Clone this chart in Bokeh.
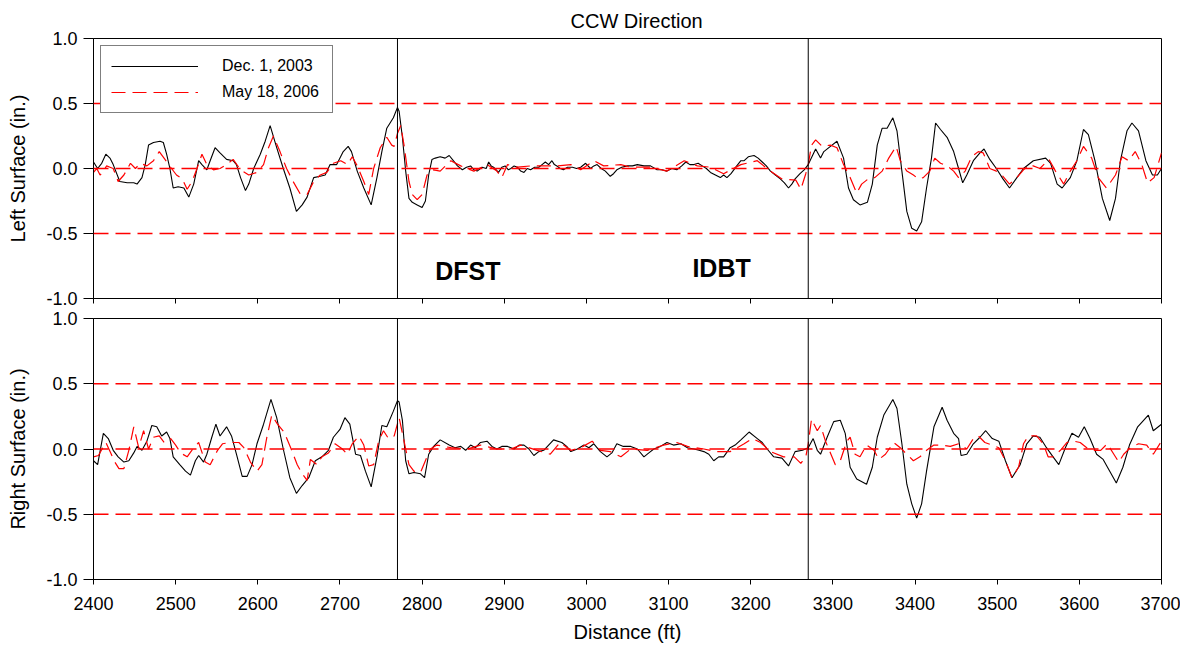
from bokeh.plotting import figure
from bokeh.layouts import column
from bokeh.models import Range1d, Span, Legend, LegendItem, FixedTicker, PrintfTickFormatter
from bokeh.core.properties import value
from bokeh.embed import file_html
from bokeh.resources import INLINE

FONT = "Liberation Sans"

# ---------------- data (distance ft, deviation in.) ----------------
left_dec_x = [2400, 2405, 2410, 2415, 2420, 2424, 2432, 2441, 2449, 2453, 2459, 2463, 2467, 2473, 2481, 2485,
              2489, 2493, 2497, 2503, 2510, 2516, 2522, 2528, 2532, 2538, 2542, 2548, 2554, 2562, 2570, 2574,
              2579, 2585, 2589, 2595, 2603, 2609, 2615, 2623, 2631, 2639, 2647, 2654, 2660, 2668, 2676, 2682,
              2688, 2696, 2704, 2710, 2714, 2721, 2729, 2738, 2745, 2751, 2757, 2765, 2770, 2772, 2776, 2780,
              2784, 2788, 2794, 2800, 2804, 2808, 2812, 2816, 2822, 2828, 2833, 2838, 2843, 2849, 2854, 2859,
              2863, 2867, 2873, 2878, 2881, 2884, 2887, 2893, 2897, 2901, 2905, 2908, 2912, 2916, 2920, 2924,
              2928, 2932, 2937, 2942, 2946, 2950, 2954, 2958, 2961, 2964, 2968, 2972, 2977, 2983, 2988, 2993,
              2999, 3005, 3009, 3013, 3018, 3023, 3029, 3033, 3037, 3043, 3050, 3056, 3062, 3070, 3078, 3086,
              3092, 3098, 3104, 3110, 3116, 3121, 3126, 3131, 3136, 3141, 3146, 3151, 3157, 3163, 3167, 3171,
              3176, 3183, 3188, 3192, 3197, 3204, 3209, 3214, 3219, 3224, 3230, 3236, 3241, 3246, 3250, 3254,
              3260, 3265, 3270, 3279, 3285, 3289, 3297, 3305, 3313, 3319, 3325, 3333, 3342, 3348, 3354, 3360,
              3366, 3373, 3378, 3384, 3390, 3396, 3402, 3408, 3414, 3420, 3425, 3431, 3439, 3447, 3453, 3458,
              3463, 3471, 3479, 3484, 3491, 3499, 3507, 3515, 3524, 3532, 3544, 3559, 3565, 3573, 3579, 3589,
              3597, 3605, 3611, 3619, 3628, 3637, 3644, 3650, 3658, 3664, 3672, 3681, 3689, 3695, 3700]
left_dec_y = [0.05, 0.00, 0.04, 0.11, 0.08, 0.03, -0.10, -0.11, -0.11, -0.12, -0.07, 0.03, 0.18, 0.20, 0.21, 0.20,
              0.11, 0.00, -0.15, -0.14, -0.15, -0.22, -0.12, 0.06, 0.03, -0.01, 0.06, 0.16, 0.12, 0.07, 0.06, 0.03,
              -0.07, -0.17, -0.12, 0.00, 0.11, 0.21, 0.33, 0.16, 0.00, -0.15, -0.33, -0.28, -0.22, -0.07, -0.06, -0.05,
              0.03, 0.03, 0.13, 0.17, 0.13, -0.02, -0.15, -0.28, -0.07, 0.13, 0.31, 0.39, 0.47, 0.44, 0.24, -0.02,
              -0.23, -0.26, -0.28, -0.30, -0.25, -0.05, 0.07, 0.08, 0.09, 0.08, 0.10, 0.06, 0.02, -0.01, 0.01, 0.02,
              -0.01, -0.02, 0.01, 0.00, 0.05, 0.02, 0.01, -0.03, 0.01, 0.02, -0.01, 0.00, 0.02, 0.01, -0.02, -0.03,
              0.00, -0.01, 0.01, 0.01, 0.03, 0.05, 0.03, 0.06, 0.03, 0.02, 0.00, -0.01, 0.01, 0.01, 0.00, 0.01,
              0.04, 0.00, 0.02, 0.03, 0.00, -0.02, -0.06, -0.04, -0.01, 0.01, 0.02, 0.02, 0.03, 0.02, 0.02, -0.01,
              -0.01, -0.02, 0.00, -0.01, 0.02, 0.05, 0.03, 0.03, 0.04, 0.02, 0.00, -0.03, -0.05, -0.07, -0.05, -0.07,
              -0.04, 0.02, 0.06, 0.06, 0.09, 0.10, 0.08, 0.05, 0.02, -0.02, -0.05, -0.08, -0.11, -0.15, -0.12, -0.08,
              -0.04, -0.01, 0.03, 0.15, 0.08, 0.13, 0.17, 0.21, 0.08, -0.15, -0.24, -0.28, -0.26, -0.12, 0.18, 0.31,
              0.31, 0.39, 0.29, -0.02, -0.33, -0.46, -0.48, -0.41, -0.15, 0.08, 0.35, 0.30, 0.24, 0.13, 0.00, -0.11,
              -0.05, 0.06, 0.12, 0.15, 0.07, 0.00, -0.08, -0.15, -0.07, 0.00, 0.06, 0.08, 0.04, -0.12, -0.15, -0.07,
              0.06, 0.30, 0.26, 0.06, -0.23, -0.40, -0.23, 0.06, 0.29, 0.35, 0.29, 0.06, -0.05, -0.05, 0.00]

left_may_x = [2400, 2404, 2408, 2412, 2416, 2420, 2424, 2430, 2437, 2445, 2451, 2457, 2465, 2473, 2480, 2487,
              2495, 2501, 2508, 2514, 2520, 2526, 2532, 2538, 2546, 2554, 2562, 2570, 2579, 2589, 2599, 2607,
              2613, 2619, 2627, 2635, 2643, 2652, 2660, 2668, 2676, 2684, 2692, 2701, 2709, 2715, 2721, 2729,
              2735, 2741, 2749, 2757, 2763, 2766, 2770, 2774, 2778, 2784, 2788, 2794, 2800, 2806, 2814, 2822,
              2835, 2847, 2863, 2879, 2891, 2897, 2904, 2916, 2932, 2948, 2964, 2981, 2993, 3009, 3021, 3042,
              3054, 3078, 3098, 3119, 3135, 3151, 3167, 3188, 3208, 3224, 3238, 3255, 3261, 3267, 3270, 3274,
              3279, 3287, 3297, 3305, 3313, 3321, 3329, 3335, 3343, 3351, 3360, 3368, 3377, 3382, 3390, 3398,
              3404, 3410, 3418, 3424, 3431, 3439, 3447, 3453, 3461, 3469, 3477, 3483, 3491, 3499, 3507, 3515,
              3524, 3532, 3540, 3552, 3563, 3571, 3581, 3589, 3597, 3605, 3615, 3623, 3633, 3644, 3652, 3660,
              3668, 3676, 3683, 3691, 3700]
left_may_y = [-0.03, 0.00, -0.05, -0.02, 0.02, 0.01, 0.00, -0.10, -0.05, 0.04, 0.00, 0.04, 0.02, 0.06, 0.13, 0.07,
              0.00, -0.05, -0.08, -0.16, -0.10, 0.00, 0.11, 0.03, -0.01, 0.00, 0.03, 0.07, -0.01, -0.05, -0.03, 0.03,
              0.16, 0.25, 0.13, 0.00, -0.10, -0.20, -0.20, -0.10, -0.05, -0.03, 0.04, 0.06, 0.03, 0.09, 0.02, -0.10,
              -0.20, 0.00, 0.16, 0.24, 0.18, 0.17, 0.27, 0.33, 0.18, -0.10, -0.20, -0.24, -0.20, -0.05, -0.01, -0.02,
              0.06, 0.02, -0.02, 0.03, -0.02, -0.07, 0.03, 0.01, 0.02, 0.02, 0.02, 0.03, -0.01, 0.06, 0.02, 0.03,
              0.01, 0.01, -0.02, 0.06, 0.02, 0.01, -0.04, 0.03, 0.06, -0.02, -0.08, -0.09, -0.16, -0.04, 0.03, 0.18,
              0.22, 0.17, 0.18, 0.16, 0.03, -0.07, -0.19, -0.12, -0.08, -0.07, -0.02, 0.08, 0.17, 0.06, -0.02, -0.05,
              -0.08, -0.07, -0.02, 0.08, 0.04, 0.02, -0.02, -0.07, -0.02, 0.09, 0.13, 0.12, 0.00, -0.02, -0.06, -0.12,
              -0.07, -0.01, 0.03, 0.00, 0.07, -0.02, -0.12, -0.02, 0.06, 0.17, 0.08, -0.07, -0.15, -0.05, 0.09, 0.06,
              0.13, 0.03, -0.11, -0.07, 0.12]

right_dec_x = [2400, 2405, 2412, 2418, 2424, 2430, 2437, 2443, 2449, 2453, 2459, 2465, 2471, 2477, 2483, 2489,
               2493, 2497, 2505, 2512, 2518, 2524, 2528, 2534, 2538, 2544, 2549, 2554, 2562, 2568, 2574, 2581,
               2587, 2593, 2599, 2607, 2616, 2623, 2631, 2639, 2647, 2654, 2662, 2670, 2678, 2686, 2692, 2700,
               2706, 2712, 2719, 2725, 2731, 2738, 2745, 2751, 2757, 2765, 2770, 2772, 2776, 2780, 2784, 2790,
               2798, 2803, 2808, 2814, 2822, 2833, 2840, 2847, 2853, 2859, 2865, 2871, 2879, 2885, 2891, 2897,
               2904, 2912, 2918, 2924, 2930, 2936, 2942, 2948, 2954, 2960, 2970, 2976, 2981, 2989, 2997, 3003,
               3009, 3017, 3025, 3031, 3037, 3045, 3054, 3062, 3070, 3076, 3082, 3090, 3098, 3106, 3115, 3123,
               3131, 3137, 3143, 3149, 3155, 3161, 3167, 3175, 3181, 3188, 3198, 3208, 3214, 3220, 3228, 3238,
               3246, 3254, 3263, 3270, 3276, 3281, 3285, 3293, 3301, 3309, 3315, 3321, 3329, 3341, 3348, 3354,
               3362, 3373, 3378, 3384, 3390, 3396, 3402, 3408, 3414, 3423, 3433, 3439, 3447, 3453, 3456, 3463,
               3471, 3479, 3486, 3494, 3502, 3510, 3518, 3528, 3536, 3544, 3552, 3560, 3568, 3575, 3583, 3591,
               3599, 3606, 3613, 3621, 3629, 3637, 3645, 3653, 3661, 3671, 3684, 3690, 3700]
right_dec_y = [-0.09, -0.12, 0.12, 0.08, -0.01, -0.06, -0.10, -0.09, -0.03, 0.02, -0.01, 0.06, 0.18, 0.17, 0.10, 0.13,
               0.08, -0.06, -0.12, -0.17, -0.20, -0.09, -0.05, -0.10, -0.04, 0.09, 0.19, 0.10, 0.17, 0.10, -0.04, -0.21,
               -0.21, -0.12, 0.04, 0.19, 0.38, 0.24, 0.00, -0.22, -0.34, -0.28, -0.22, -0.09, -0.06, -0.01, 0.09, 0.15,
               0.24, 0.19, -0.04, -0.05, -0.17, -0.29, -0.06, 0.18, 0.17, 0.29, 0.37, 0.36, 0.22, -0.09, -0.19, -0.18,
               -0.19, -0.22, -0.04, 0.02, 0.07, 0.03, 0.01, 0.02, -0.01, 0.03, 0.01, 0.05, 0.06, 0.02, 0.00, 0.02,
               0.02, 0.00, 0.03, 0.03, 0.00, -0.05, -0.02, -0.01, 0.03, 0.07, 0.05, 0.02, -0.02, 0.00, 0.03, 0.01,
               0.04, -0.02, -0.06, -0.03, 0.04, 0.02, 0.02, 0.00, -0.06, -0.03, 0.00, 0.02, 0.05, 0.03, 0.04, 0.01,
               0.00, -0.01, -0.02, -0.04, -0.09, -0.06, -0.06, 0.01, 0.03, 0.07, 0.13, 0.08, 0.05, 0.00, -0.06, -0.07,
               -0.13, -0.02, -0.01, 0.01, 0.08, -0.01, -0.04, 0.09, 0.21, 0.22, 0.12, -0.14, -0.23, -0.27, -0.14, 0.09,
               0.26, 0.38, 0.31, 0.04, -0.27, -0.42, -0.53, -0.42, -0.17, 0.17, 0.32, 0.22, 0.12, 0.08, -0.05, -0.04,
               0.04, 0.09, 0.14, 0.08, 0.06, -0.09, -0.22, -0.12, 0.04, 0.10, 0.09, 0.01, -0.06, -0.12, 0.01, 0.12,
               0.09, 0.17, 0.08, -0.04, -0.08, -0.17, -0.26, -0.14, 0.03, 0.17, 0.26, 0.14, 0.19]

right_may_x = [2400, 2406, 2415, 2421, 2425, 2431, 2437, 2443, 2449, 2455, 2461, 2467, 2473, 2480, 2486, 2494,
               2500, 2506, 2514, 2522, 2528, 2536, 2542, 2551, 2557, 2567, 2577, 2583, 2591, 2599, 2605, 2611,
               2617, 2624, 2632, 2640, 2648, 2654, 2660, 2664, 2672, 2678, 2686, 2694, 2703, 2709, 2715, 2723,
               2729, 2735, 2741, 2747, 2753, 2759, 2766, 2772, 2778, 2784, 2790, 2798, 2804, 2810, 2818, 2835,
               2855, 2871, 2891, 2908, 2920, 2940, 2956, 2968, 2981, 2993, 3007, 3017, 3029, 3042, 3054, 3074,
               3094, 3110, 3123, 3143, 3159, 3175, 3192, 3202, 3212, 3224, 3240, 3253, 3261, 3267, 3270, 3274,
               3281, 3285, 3291, 3297, 3303, 3309, 3317, 3321, 3327, 3333, 3341, 3350, 3356, 3364, 3374, 3382,
               3390, 3398, 3406, 3414, 3423, 3433, 3443, 3453, 3463, 3471, 3477, 3485, 3494, 3502, 3510, 3518,
               3526, 3532, 3538, 3548, 3556, 3562, 3568, 3577, 3585, 3593, 3601, 3609, 3615, 3626, 3634, 3642,
               3648, 3654, 3662, 3672, 3682, 3690, 3700]
right_may_y = [-0.06, -0.05, 0.05, -0.03, -0.09, -0.15, -0.15, -0.01, 0.17, 0.01, 0.14, 0.00, 0.09, 0.10, 0.05, 0.08,
               0.03, -0.03, -0.06, 0.01, 0.05, -0.10, -0.12, -0.01, 0.04, 0.05, 0.05, 0.01, -0.10, -0.17, -0.12, 0.09,
               0.26, 0.19, 0.13, 0.01, -0.12, -0.19, -0.24, -0.08, -0.12, -0.06, -0.03, 0.04, 0.00, -0.04, 0.04, 0.10,
               0.03, -0.13, -0.12, 0.06, 0.14, 0.08, 0.10, 0.24, 0.06, -0.12, -0.17, -0.18, -0.09, 0.00, 0.03, 0.01,
               0.00, 0.03, 0.00, 0.00, 0.03, -0.01, -0.04, 0.05, -0.01, 0.01, 0.06, -0.01, -0.02, -0.06, 0.00, -0.01,
               0.03, 0.05, 0.02, 0.00, -0.02, -0.02, 0.04, 0.08, 0.05, -0.02, -0.06, -0.06, -0.11, -0.06, 0.04, 0.23,
               0.14, 0.18, 0.06, -0.03, -0.12, -0.09, 0.06, 0.09, -0.04, -0.06, 0.03, -0.01, -0.08, -0.04, 0.05, 0.01,
               -0.04, -0.09, -0.06, -0.01, 0.03, 0.03, 0.02, 0.04, 0.00, 0.08, 0.10, 0.05, 0.03, 0.01, -0.09, -0.22,
               -0.14, 0.04, 0.10, 0.10, 0.04, -0.06, -0.06, -0.01, 0.05, 0.06, 0.05, 0.01, -0.01, -0.01, 0.04, -0.04,
               -0.10, -0.04, 0.01, 0.04, 0.03, -0.04, 0.06]

marker_lines = [2770, 3270]
limit_lines = [-0.5, 0.0, 0.5]
y_ticks = [-1.0, -0.5, 0.0, 0.5, 1.0]
x_ticks = list(range(2400, 3701, 100))
series_labels = ["Dec. 1, 2003", "May 18, 2006"]
zone_labels = ["DFST", "IDBT"]

RED = "#ff0000"


def style(p, ylabel, show_x_labels):
    p.grid.visible = False
    p.outline_line_color = "black"
    p.outline_line_width = 1
    p.background_fill_color = "white"
    p.border_fill_color = "white"
    p.yaxis.ticker = FixedTicker(ticks=y_ticks)
    p.yaxis.formatter = PrintfTickFormatter(format="%.1f")
    p.xaxis.ticker = FixedTicker(ticks=x_ticks)
    for ax in p.axis:
        ax.axis_line_color = "black"
        ax.major_tick_line_color = "black"
        ax.minor_tick_line_color = None
        ax.major_tick_in = 0
        ax.major_label_text_font = FONT
        ax.major_label_text_color = "black"
        ax.axis_label_text_font = FONT
        ax.axis_label_text_font_style = "normal"
        ax.axis_label_text_color = "black"
    p.yaxis.major_tick_out = 10
    p.yaxis.major_label_text_font_size = "18px"
    p.yaxis.major_label_standoff = 6
    p.yaxis.axis_label = ylabel
    p.yaxis.axis_label_text_font_size = "20px"
    p.yaxis.axis_label_standoff = 14
    p.xaxis.major_tick_out = 5
    if show_x_labels:
        p.xaxis.major_label_text_font_size = "18px"
        p.xaxis.major_label_standoff = 12
        p.xaxis.axis_label = "Distance (ft)"
        p.xaxis.axis_label_text_font_size = "20px"
        p.xaxis.axis_label_standoff = 8
    else:
        p.xaxis.major_label_text_font_size = "18px"
        p.xaxis.major_label_overrides = {t: "" for t in x_ticks}
        p.xaxis.major_label_standoff = 0
    for v in limit_lines:
        p.add_layout(Span(location=v, dimension="width", line_color=RED,
                          line_dash="15 7", line_width=1.5))
    for v in marker_lines:
        p.add_layout(Span(location=v, dimension="height", line_color="black", line_width=1))


top = figure(width=1180, height=308, output_backend="svg", toolbar_location=None,
             x_range=Range1d(2400, 3700), y_range=Range1d(-1, 1),
             min_border_left=93, min_border_right=19, min_border_top=37, min_border_bottom=10,
             title="CCW Direction")
top.title.text_font = FONT
top.title.text_font_size = "20px"
top.title.text_font_style = "normal"
top.title.text_color = "black"
top.title.align = "left"
top.title.offset = 477
top.title.standoff = 14
style(top, "Left Surface (in.)", False)
r_dec = top.line(left_dec_x, left_dec_y, line_color="black", line_width=1.1)
r_may = top.line(left_may_x, left_may_y, line_color=RED, line_width=1.2, line_dash="14 7")
top.text(x=[2816], y=[-0.785], text=[zone_labels[0]], text_font=value(FONT), text_font_style="bold",
         text_font_size="25px", text_baseline="alphabetic", text_align="left", text_color="black")
top.text(x=[3129], y=[-0.762], text=[zone_labels[1]], text_font=value(FONT), text_font_style="bold",
         text_font_size="25px", text_baseline="alphabetic", text_align="left", text_color="black")

legend = Legend(items=[LegendItem(label=series_labels[0], renderers=[r_dec]),
                       LegendItem(label=series_labels[1], renderers=[r_may])],
                location="top_left")
legend.margin = 7
legend.padding = 10
legend.spacing = 6
legend.glyph_width = 87
legend.glyph_height = 20
legend.label_height = 20
legend.label_width = 100
legend.label_standoff = 24
legend.label_text_font = FONT
legend.label_text_font_size = "16px"
legend.label_text_color = "black"
legend.border_line_color = "black"
legend.border_line_width = 1
legend.background_fill_color = "white"
legend.background_fill_alpha = 1.0
top.add_layout(legend)

bottom = figure(width=1180, height=337, output_backend="svg", toolbar_location=None,
                x_range=top.x_range, y_range=Range1d(-1, 1),
                min_border_left=93, min_border_right=19, min_border_top=10, min_border_bottom=66)
style(bottom, "Right Surface (in.)", True)
bottom.line(right_dec_x, right_dec_y, line_color="black", line_width=1.1)
bottom.line(right_may_x, right_may_y, line_color=RED, line_width=1.2, line_dash="14 7")

layout = column(top, bottom, spacing=0)
open("out.html", "w").write(file_html(layout, INLINE))
